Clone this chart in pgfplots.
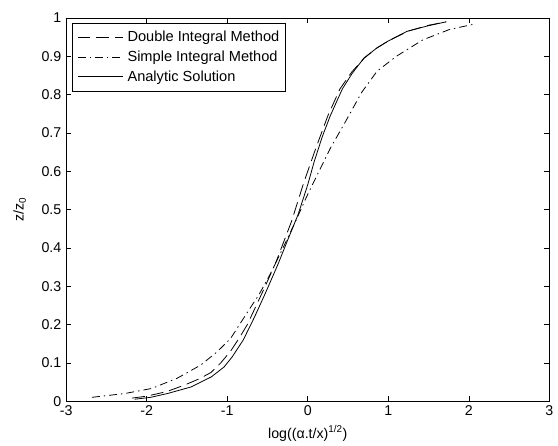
\documentclass[border=0pt]{standalone}
\usepackage{fontspec}
\setmainfont{Liberation Sans}
\usepackage{pgfplots}
\pgfplotsset{compat=1.18}
\begin{document}
\fontsize{14.4}{17}\selectfont
\begin{tikzpicture}
\begin{axis}[
  scale only axis,
  width=488bp, height=387bp,
  xmin=-3, xmax=3, ymin=0, ymax=1,
  xtick={-3,-2,-1,0,1,2,3},
  ytick={0,0.1,0.2,0.3,0.4,0.5,0.6,0.7,0.8,0.9,1},
  yticklabel style={/pgf/number format/fixed,/pgf/number format/precision=1},
  /pgf/number format/assume math mode=true,
  tick align=inside,
  major tick length=5bp,
  tick style={black, line width=0.6bp},
  axis line style={line width=0.6bp},
  ticklabel style={font=\fontsize{14.4}{17}\selectfont},
  xlabel={log((α.t/x)\textsuperscript{1/2})},
  ylabel={z/z\textsubscript{0}},
  label style={font=\fontsize{14.4}{17}\selectfont},
  xlabel style={yshift=0bp},
  ylabel style={yshift=6bp},
  legend style={at={(rel axis cs:0.012,0.987)}, anchor=north west,
    draw=black, line width=0.6bp, font=\fontsize{14.8}{17}\selectfont,
    inner xsep=5bp, inner ysep=7bp, row sep=5bp, column sep=3bp,
    legend cell align=left, nodes={inner sep=1bp}},
  legend image code/.code={\draw[#1, line width=0.8bp] (0bp,0bp) -- (46bp,0bp);},
  clip=false,
]
\addplot[black, line width=0.8bp, dash pattern=on 13bp off 6bp] coordinates {
(-2.18,0.008) (-2.0,0.013) (-1.75,0.025) (-1.53,0.042) (-1.35,0.058) (-1.2,0.075)
(-1.08,0.10) (-0.96,0.13) (-0.85,0.165) (-0.75,0.20) (-0.65,0.245) (-0.55,0.29)
(-0.4,0.36) (-0.3,0.415) (-0.2,0.47) (-0.05,0.57) (0.1,0.66) (0.25,0.745)
(0.4,0.815) (0.55,0.86) (0.7,0.895) (0.86,0.922) (1.0,0.94) (1.25,0.966)
(1.5,0.981) (1.72,0.99)
};
\addlegendentry{Double Integral Method}
\addplot[black, line width=0.8bp, dash pattern=on 8bp off 4bp on 1.5bp off 4bp] coordinates {
(-2.68,0.01) (-2.27,0.02) (-1.94,0.033) (-1.62,0.06) (-1.33,0.094) (-1.13,0.128)
(-0.96,0.163) (-0.74,0.235) (-0.6,0.28) (-0.47,0.33) (-0.33,0.39) (-0.15,0.47)
(0,0.54) (0.14,0.60) (0.28,0.66) (0.47,0.73) (0.67,0.806) (0.86,0.861)
(1.10,0.90) (1.43,0.943) (1.76,0.97) (2.09,0.985)
};
\addlegendentry{Simple Integral Method}
\addplot[black, line width=0.8bp] coordinates {
(-2.15,0.005) (-1.95,0.01) (-1.74,0.02) (-1.45,0.037) (-1.20,0.063) (-1.04,0.089)
(-0.94,0.115) (-0.80,0.16) (-0.66,0.22) (-0.53,0.28) (-0.37,0.357) (-0.25,0.42)
(-0.12,0.487) (0.0,0.565) (0.08,0.625) (0.18,0.69) (0.28,0.745) (0.43,0.815)
(0.55,0.855) (0.70,0.896) (0.86,0.922) (1.0,0.94) (1.23,0.965) (1.5,0.98) (1.72,0.99)
};
\addlegendentry{Analytic Solution}
\path (rel axis cs:-0.137,-0.116) rectangle (rel axis cs:1.006,1.047);
\end{axis}
\end{tikzpicture}
\end{document}
